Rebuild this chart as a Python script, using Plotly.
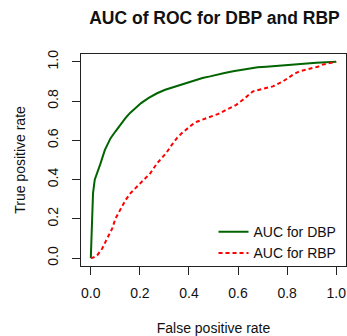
import plotly.graph_objects as go

# ROC curve points (false positive rate, true positive rate)
dbp_fpr = [0, 0.003, 0.005, 0.009, 0.016, 0.026, 0.039, 0.057, 0.08, 0.10, 0.12, 0.141, 0.16, 0.181,
           0.205, 0.236, 0.27, 0.303, 0.337, 0.371, 0.40, 0.425, 0.455, 0.486, 0.512, 0.545, 0.58,
           0.615, 0.648, 0.68, 0.715, 0.75, 0.783, 0.82, 0.851, 0.885, 0.919, 0.96, 1.0]
dbp_tpr = [0, 0.09, 0.21, 0.33, 0.40, 0.44, 0.48, 0.55, 0.61, 0.645, 0.68, 0.713, 0.74, 0.765,
           0.79, 0.816, 0.84, 0.858, 0.872, 0.886, 0.898, 0.909, 0.918, 0.926, 0.935, 0.943, 0.952,
           0.96, 0.968, 0.972, 0.975, 0.979, 0.983, 0.987, 0.99, 0.993, 0.995, 0.998, 1.0]

rbp_fpr = [0, 0.01, 0.026, 0.046, 0.066, 0.087, 0.10, 0.12, 0.141, 0.161, 0.181, 0.209, 0.242,
           0.27, 0.29, 0.31, 0.33, 0.35, 0.371, 0.392, 0.412, 0.432, 0.452, 0.486, 0.52, 0.553,
           0.593, 0.62, 0.64, 0.661, 0.702, 0.742, 0.783, 0.805, 0.824, 0.851, 0.878, 0.905,
           0.925, 0.945, 0.97, 1.0]
rbp_tpr = [0, 0.003, 0.014, 0.048, 0.099, 0.15, 0.20, 0.244, 0.295, 0.33, 0.355, 0.389, 0.432,
           0.483, 0.509, 0.54, 0.577, 0.61, 0.637, 0.66, 0.679, 0.695, 0.705, 0.718, 0.735, 0.756,
           0.781, 0.807, 0.83, 0.85, 0.863, 0.875, 0.90, 0.92, 0.935, 0.952, 0.96, 0.966,
           0.975, 0.986, 0.993, 1.0]

tick_vals = [0, 0.2, 0.4, 0.6, 0.8, 1.0]
tick_text = ["0.0", "0.2", "0.4", "0.6", "0.8", "1.0"]

FONT = "Liberation Sans, Arial, sans-serif"

fig = go.Figure()
fig.add_trace(go.Scatter(x=dbp_fpr, y=dbp_tpr, mode="lines", name="AUC for DBP",
                         line=dict(color="#006400", width=2)))
fig.add_trace(go.Scatter(x=rbp_fpr, y=rbp_tpr, mode="lines", name="AUC for RBP",
                         line=dict(color="#ff0000", width=2, dash="4px,3px")))

axis_common = dict(
    range=[-0.04, 1.04], tickvals=tick_vals, ticktext=tick_text,
    showgrid=False, zeroline=False, showline=True, mirror=True,
    linecolor="#222", linewidth=1, ticks="outside", ticklen=8, tickcolor="#222",
    tickfont=dict(size=14, color="#111", family=FONT),
)

fig.update_layout(
    width=347, height=336,
    margin=dict(l=81, r=1, t=54, b=70),
    paper_bgcolor="white", plot_bgcolor="white",
    font=dict(family=FONT, size=14, color="#111"),
    title=dict(text="<b>AUC of ROC for DBP and RBP</b>", x=0.618, xanchor="center",
               y=0.946, yanchor="middle", font=dict(size=17.5, color="#111", family=FONT)),
    xaxis=dict(**axis_common, ticklabelstandoff=6,
               title=dict(text="False positive rate", standoff=25, font=dict(size=14))),
    yaxis=dict(**axis_common, tickangle=-90, ticklabelstandoff=8,
               title=dict(text="True positive rate", standoff=16, font=dict(size=14))),
    showlegend=True,
    legend=dict(x=0.50, y=-0.015, xanchor="left", yanchor="bottom",
                bgcolor="rgba(0,0,0,0)", borderwidth=0, font=dict(size=14, family=FONT),
                itemwidth=30, tracegroupgap=0),
)

fig.write_html("out.html")
